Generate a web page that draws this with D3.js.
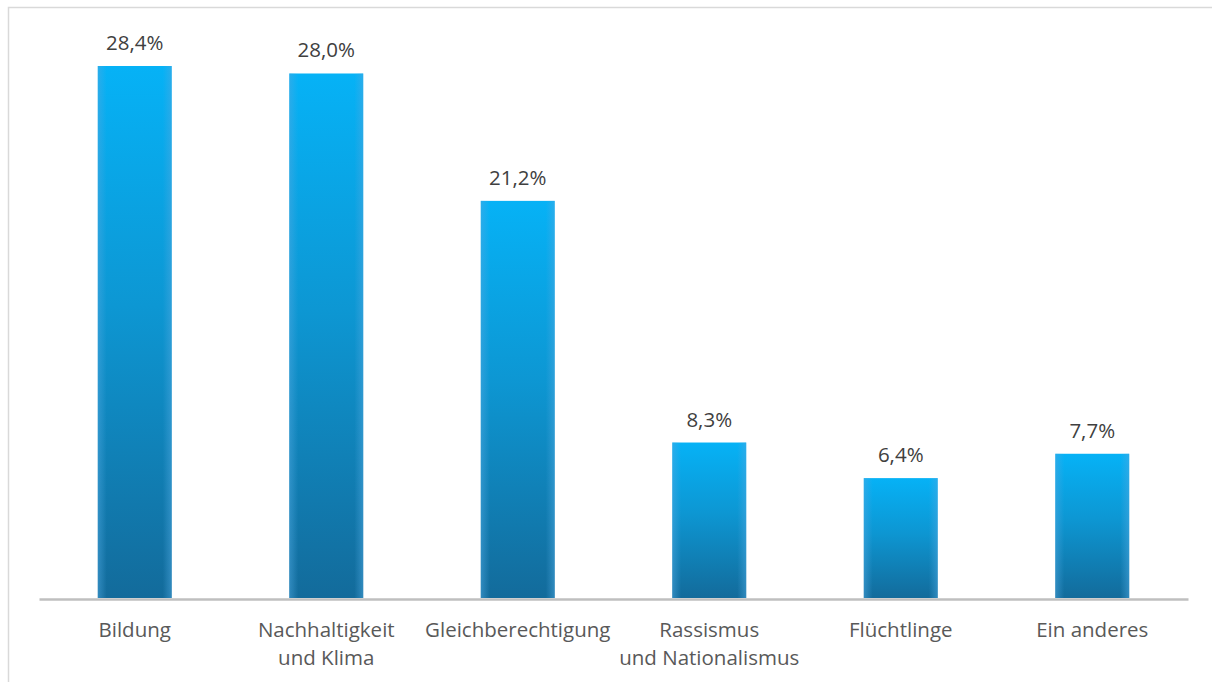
<!DOCTYPE html>
<html>
<head>
<meta charset="utf-8">
<script src="https://cdn.jsdelivr.net/npm/d3@7"></script>
<style>
  html, body { margin: 0; padding: 0; background: #fff; }
  svg { display: block; }
</style>
</head>
<body>
<svg id="chart" width="1212" height="682"></svg>
<script>
const categories = ["Bildung", "Nachhaltigkeit\nund Klima", "Gleichberechtigung", "Rassismus\nund Nationalismus", "Flüchtlinge", "Ein anderes"];
const values = [28.4, 28.0, 21.2, 8.3, 6.4, 7.7];
const valueLabels = ["28,4%", "28,0%", "21,2%", "8,3%", "6,4%", "7,7%"];

const W = 1212, H = 682;
const svg = d3.select("#chart");

// chart border
svg.append("rect")
  .attr("x", 8.5).attr("y", 7.5)
  .attr("width", W + 20).attr("height", H + 20)
  .attr("fill", "none").attr("stroke", "#D9D9D9").attr("stroke-width", 1.5);

const defs = svg.append("defs");
const grad = defs.append("linearGradient")
  .attr("id", "barGrad").attr("x1", 0).attr("y1", 0).attr("x2", 0).attr("y2", 1);
grad.append("stop").attr("offset", "0%").attr("stop-color", "#06B2F6");
grad.append("stop").attr("offset", "45%").attr("stop-color", "#0D97D3");
grad.append("stop").attr("offset", "100%").attr("stop-color", "#136B9B");

const sideGrad = defs.append("linearGradient")
  .attr("id", "sideGrad").attr("x1", 0).attr("y1", 0).attr("x2", 1).attr("y2", 0);
sideGrad.append("stop").attr("offset", "0%").attr("stop-color", "#4FA8E0").attr("stop-opacity", 0.5);
sideGrad.append("stop").attr("offset", "12%").attr("stop-color", "#4FA8E0").attr("stop-opacity", 0);
sideGrad.append("stop").attr("offset", "88%").attr("stop-color", "#4FA8E0").attr("stop-opacity", 0);
sideGrad.append("stop").attr("offset", "100%").attr("stop-color", "#4FA8E0").attr("stop-opacity", 0.5);

const x = d3.scaleBand()
  .domain(categories)
  .range([39, 1188])
  .paddingInner(0.614).paddingOuter(0.307);

const baseY = 598;
const y = d3.scaleLinear()
  .domain([0, 28.4])
  .range([baseY, 66]);

const bars = svg.append("g");
bars.selectAll("rect.bar")
  .data(values)
  .join("rect")
  .attr("class", "bar")
  .attr("x", (d, i) => x(categories[i]))
  .attr("y", d => y(d))
  .attr("width", x.bandwidth())
  .attr("height", d => baseY - y(d))
  .attr("fill", "url(#barGrad)");
bars.selectAll("rect.side")
  .data(values)
  .join("rect")
  .attr("class", "side")
  .attr("x", (d, i) => x(categories[i]))
  .attr("y", d => y(d))
  .attr("width", x.bandwidth())
  .attr("height", d => baseY - y(d))
  .attr("fill", "url(#sideGrad)");

// value labels
svg.append("g").selectAll("text")
  .data(values)
  .join("text")
  .attr("x", (d, i) => x(categories[i]) + x.bandwidth() / 2)
  .attr("y", d => y(d) - 16)
  .attr("text-anchor", "middle")
  .attr("font-family", "'Open Sans', sans-serif")
  .attr("font-size", 20.5)
  .attr("fill", "#404040")
  .text((d, i) => valueLabels[i]);

// x axis
const xAxis = d3.axisBottom(x).tickSize(0).tickFormat("");
const ax = svg.append("g").attr("transform", `translate(0,${baseY + 1})`).call(xAxis);
ax.select(".domain").attr("stroke", "#BFBFBF").attr("stroke-width", 2.5);

// category labels
const labels = svg.append("g").selectAll("text")
  .data(categories)
  .join("text")
  .attr("x", d => x(d) + x.bandwidth() / 2)
  .attr("y", 637)
  .attr("text-anchor", "middle")
  .attr("font-family", "'Open Sans', sans-serif")
  .attr("font-size", 20.5)
  .attr("fill", "#595959");
labels.each(function(d) {
  const lines = d.split("\n");
  const t = d3.select(this);
  lines.forEach((ln, k) => {
    t.append("tspan")
      .attr("x", x(d) + x.bandwidth() / 2)
      .attr("dy", k === 0 ? 0 : 28)
      .text(ln);
  });
});
</script>
</body>
</html>
